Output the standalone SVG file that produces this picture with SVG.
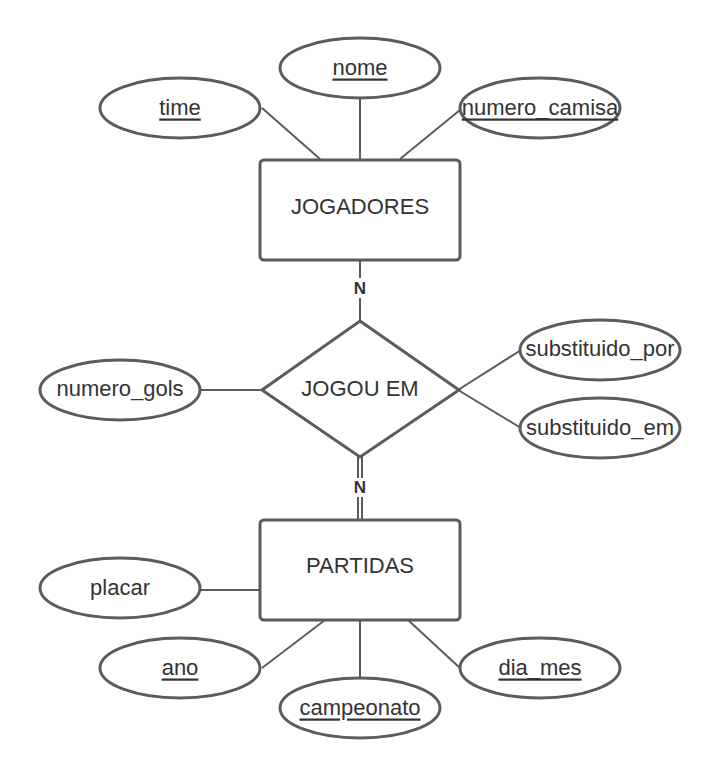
<svg xmlns="http://www.w3.org/2000/svg" width="720" height="780" viewBox="0 0 720 780">
<style>
.shape{fill:#fff;stroke:#5b5b5b;stroke-width:3}
.ln{stroke:#5b5b5b;stroke-width:2;fill:none}
text{font-family:"Liberation Sans",Arial,sans-serif;font-size:22px;fill:#333;text-anchor:middle;dominant-baseline:central}
.u{text-decoration:underline}
.card{font-size:17px;font-weight:bold}
</style>
<rect width="720" height="780" fill="#fff"/>
<g id="connectors">
<line class="ln" x1="262" y1="108" x2="320" y2="159"/>
<line class="ln" x1="360" y1="98" x2="360" y2="160"/>
<line class="ln" x1="460" y1="110" x2="400" y2="159"/>
<line class="ln" x1="360" y1="260" x2="360" y2="278"/>
<line class="ln" x1="360" y1="298" x2="360" y2="321"/>
<line class="ln" x1="200" y1="390" x2="262" y2="390"/>
<line class="ln" x1="458" y1="390" x2="521" y2="350"/>
<line class="ln" x1="458" y1="390" x2="521" y2="428"/>
<line class="ln" x1="358" y1="457" x2="358" y2="478"/>
<line class="ln" x1="362" y1="457" x2="362" y2="478"/>
<line class="ln" x1="358" y1="497" x2="358" y2="520"/>
<line class="ln" x1="362" y1="497" x2="362" y2="520"/>
<line class="ln" x1="200" y1="590" x2="260" y2="590"/>
<line class="ln" x1="262" y1="668" x2="325" y2="620"/>
<line class="ln" x1="360" y1="620" x2="360" y2="678"/>
<line class="ln" x1="460" y1="668" x2="408" y2="620"/>
<text class="card" x="360" y="288">N</text>
<text class="card" x="360" y="487">N</text>
</g>
<g id="time"><ellipse class="shape" cx="180" cy="108" rx="80" ry="30"/><text class="u" x="180" y="107">time</text></g>
<g id="nome"><ellipse class="shape" cx="360" cy="68" rx="80" ry="30"/><text class="u" x="360" y="67">nome</text></g>
<g id="numero_camisa"><ellipse class="shape" cx="540" cy="108" rx="80" ry="30"/><text class="u" x="540" y="107">numero_camisa</text></g>
<g id="jogadores"><rect class="shape" x="260" y="160" width="200" height="100" rx="4"/><text x="360" y="206">JOGADORES</text></g>
<g id="jogou_em"><polygon class="shape" points="360,321 459,390 360,457 262,390"/><text x="360" y="388">JOGOU EM</text></g>
<g id="numero_gols"><ellipse class="shape" cx="120" cy="390" rx="80" ry="30"/><text x="120" y="388">numero_gols</text></g>
<g id="substituido_por"><ellipse class="shape" cx="600" cy="350" rx="80" ry="30"/><text x="600" y="348">substituido_por</text></g>
<g id="substituido_em"><ellipse class="shape" cx="600" cy="428" rx="80" ry="30"/><text x="600" y="427">substituido_em</text></g>
<g id="partidas"><rect class="shape" x="260" y="520" width="200" height="100" rx="4"/><text x="360" y="565">PARTIDAS</text></g>
<g id="placar"><ellipse class="shape" cx="120" cy="588" rx="80" ry="30"/><text x="120" y="587">placar</text></g>
<g id="ano"><ellipse class="shape" cx="180" cy="668" rx="80" ry="30"/><text class="u" x="180" y="667">ano</text></g>
<g id="campeonato"><ellipse class="shape" cx="360" cy="708" rx="80" ry="30"/><text class="u" x="360" y="707">campeonato</text></g>
<g id="dia_mes"><ellipse class="shape" cx="540" cy="668" rx="80" ry="30"/><text class="u" x="540" y="667">dia_mes</text></g>
</svg>
